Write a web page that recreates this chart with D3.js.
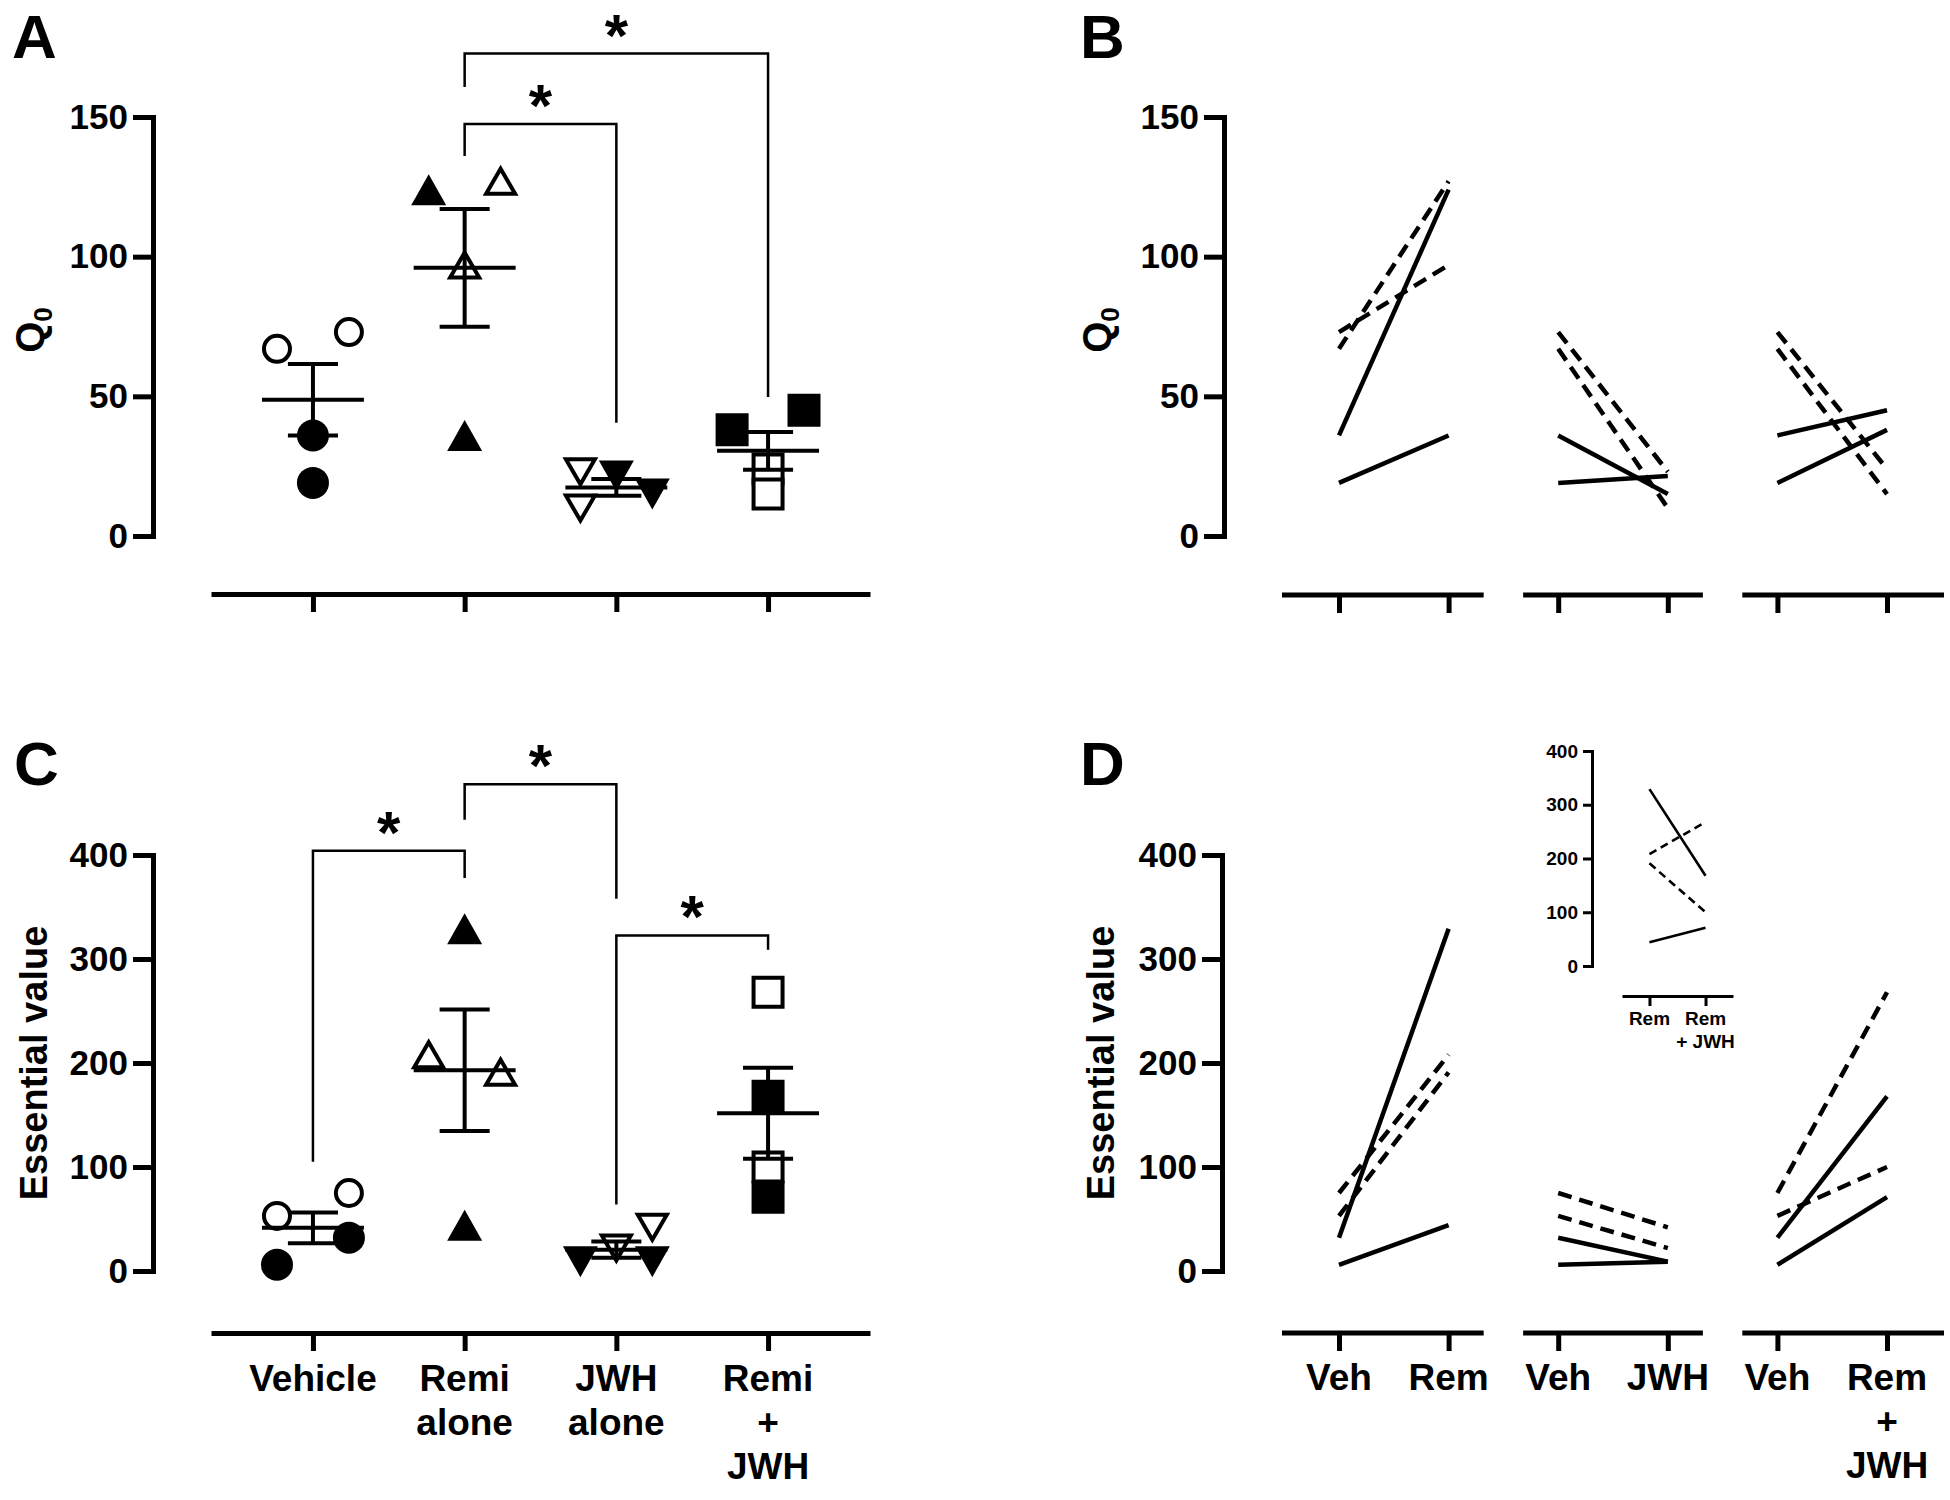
<!DOCTYPE html>
<html><head><meta charset="utf-8">
<script src="https://cdn.jsdelivr.net/npm/d3@7"></script>
<style>
body{margin:0;background:#fff;}
</style></head><body>
<svg id="fig" width="1950" height="1500"></svg>
<script>
// ---------------- DATA ----------------
const groups = ["Vehicle", "Remi alone", "JWH alone", "Remi + JWH"];
const groupLabels = [["Vehicle"], ["Remi", "alone"], ["JWH", "alone"], ["Remi", "+", "JWH"]];
const groupShapes = ["circle", "up", "down", "square"];
const subjects = ["S1", "S2", "S3", "S4"];
const subjectFilled = [true, true, false, false];

// Q0 (panel A/B), one value per subject
const q0Vehicle  = [36, 19, 73, 67];
const q0Remi     = [124, 36, 97, 127];
const q0JWH      = [15, 21.5, 23, 10];
const q0RemiJWH  = [45, 38, 24, 15];

// Essential value (panel C/D), one value per subject
const evVehicle  = [32, 6, 75, 53];
const evRemi     = [329, 44, 208, 191];
const evJWH      = [9, 9, 42, 22];
const evRemiJWH  = [168, 71, 268, 100];

const q0Ticks = [0, 50, 100, 150];
const evTicks = [0, 100, 200, 300, 400];

const pairKeys   = ["veh1", "rem", "veh2", "jwh", "veh3", "remjwh"];
const pairLabels = [["Veh"], ["Rem"], ["Veh"], ["JWH"], ["Veh"], ["Rem", "+", "JWH"]];
const insetKeys   = ["rem", "remjwh"];
const insetLabels = [["Rem"], ["Rem", "+ JWH"]];

// scatter column slot of each point (GraphPad-style spreading), per group per subject
const slotsQ0 = [[0, 0, 1, -1], [-1, 0, 0, 1], [1, 0, -1, -1], [1, -1, 0, 0]];
const slotsEV = [[1, -1, 1, -1], [0, 0, -1, 1], [-1, 1, 1, 0], [0, 0, 0, 0]];

// significance brackets (group indices, levels in data units)
const sigA = [
  {from: 1, to: 2, level: 147.5, legFrom: 136, legTo: 40.5, label: "*"},
  {from: 1, to: 3, level: 172.7, legFrom: 160.7, legTo: 49.8, label: "*"}
];
const sigC = [
  {from: 0, to: 1, level: 404, legFrom: 105, legTo: 378, label: "*"},
  {from: 1, to: 2, level: 468, legFrom: 434, legTo: 358, label: "*"},
  {from: 2, to: 3, level: 322.6, legFrom: 64, legTo: 309, label: "*"}
];

// ---------------- DRAWING ----------------
const FONT = '"Liberation Sans", Arial, Helvetica, sans-serif';
const svg = d3.select("#fig");
svg.append("rect").attr("width", 1950).attr("height", 1500).attr("fill", "#fff");

function txt(g, x, y, s, fs, anchor) {
  return g.append("text").attr("x", x).attr("y", y).text(s)
    .attr("font-family", FONT).attr("font-weight", "bold").attr("font-size", fs)
    .attr("text-anchor", anchor || "start").attr("fill", "#000");
}

function drawYAxis(y, ticks, xPos, fs, tickLen, sw) {
  const ax = d3.axisLeft(y).tickValues(ticks).tickSize(tickLen).tickSizeOuter(0)
    .tickPadding(5).tickFormat(d3.format("d"));
  const a = svg.append("g").attr("transform", `translate(${xPos},0)`).call(ax);
  a.attr("font-family", null).attr("font-size", null);
  a.select(".domain").attr("stroke", "#000").attr("stroke-width", sw).attr("stroke-linecap", "square");
  a.selectAll(".tick line").attr("stroke", "#000").attr("stroke-width", sw);
  a.selectAll(".tick text").attr("font-size", fs).attr("font-weight", "bold")
    .attr("font-family", FONT).attr("fill", "#000");
}

function drawXAxis(x, yPos, tickLen, sw, labels, fs, firstBase, lineH, segments) {
  const ax = d3.axisBottom(x).tickSize(tickLen).tickSizeOuter(0).tickFormat("");
  const a = svg.append("g").attr("transform", `translate(0,${yPos})`).call(ax);
  a.selectAll(".tick line").attr("stroke", "#000").attr("stroke-width", sw);
  const dom = x.domain();
  if (segments) {
    a.select(".domain").remove();
    const gap = 0.36 * x.step();
    const r = x.range();
    let start = r[0];
    const segs = [];
    for (let i = 1; i < dom.length - 1; i += 2) {
      const mid = (x(dom[i]) + x(dom[i + 1])) / 2;
      segs.push([start, mid - gap / 2]);
      start = mid + gap / 2;
    }
    segs.push([start, r[1]]);
    segs.forEach(s => a.append("line").attr("x1", s[0]).attr("x2", s[1]).attr("y1", 0).attr("y2", 0)
      .attr("stroke", "#000").attr("stroke-width", sw));
  } else {
    a.select(".domain").attr("stroke", "#000").attr("stroke-width", sw);
  }
  if (labels) {
    dom.forEach((d, i) => {
      labels[i].forEach((ln, j) => txt(svg, x(d), firstBase + j * lineH, ln, fs, "middle"));
    });
  }
}

function yLabel(x, y, parts, fs) {
  const t = svg.append("text").attr("transform", `translate(${x},${y}) rotate(-90)`)
    .attr("font-family", FONT).attr("font-weight", "bold").attr("font-size", fs)
    .attr("text-anchor", "middle").attr("fill", "#000");
  t.append("tspan").text(parts[0]);
  if (parts[1]) t.append("tspan").text(parts[1]).attr("font-size", fs * 0.65).attr("dy", fs * 0.2);
}

function markerPath(shape, filled) {
  const p = d3.path();
  if (shape === "circle") {
    const r = filled ? 16 : 13;
    p.moveTo(r, 0); p.arc(0, 0, r, 0, 2 * Math.PI);
  } else if (shape === "square") {
    const s = filled ? 33 : 29;
    p.rect(-s / 2, -s / 2, s, s);
  } else {
    const w = filled ? 35 : 29, h = filled ? 31 : 25, dir = shape === "up" ? 1 : -1;
    p.moveTo(0, -dir * h / 2); p.lineTo(w / 2, dir * h / 2); p.lineTo(-w / 2, dir * h / 2); p.closePath();
  }
  return p.toString();
}

function drawScatter(x, y, series, slots) {
  const step = x.step();
  series.forEach((vals, gi) => {
    const cx = x(groups[gi]);
    vals.forEach((v, si) => {
      const filled = subjectFilled[si];
      svg.append("path").attr("d", markerPath(groupShapes[gi], filled))
        .attr("transform", `translate(${cx + slots[gi][si] * 0.237 * step},${y(v)})`)
        .attr("fill", filled ? "#000" : "#fff").attr("stroke", filled ? "none" : "#000")
        .attr("stroke-width", 4).attr("stroke-linejoin", "miter");
    });
    // mean +/- SEM
    const m = d3.mean(vals), sem = d3.deviation(vals) / Math.sqrt(vals.length);
    const g = svg.append("g").attr("stroke", "#000").attr("stroke-width", 4);
    const hw = 0.336 * step, cw = 0.165 * step;
    g.append("line").attr("x1", cx - hw).attr("x2", cx + hw).attr("y1", y(m)).attr("y2", y(m));
    g.append("line").attr("x1", cx).attr("x2", cx).attr("y1", y(m - sem)).attr("y2", y(m + sem));
    [m - sem, m + sem].forEach(v => g.append("line").attr("x1", cx - cw).attr("x2", cx + cw).attr("y1", y(v)).attr("y2", y(v)));
  });
}

function drawBrackets(x, y, sigs) {
  sigs.forEach(s => {
    const x1 = x(groups[s.from]), x2 = x(groups[s.to]);
    svg.append("path")
      .attr("d", `M${x1},${y(s.legFrom)}V${y(s.level)}H${x2}V${y(s.legTo)}`)
      .attr("fill", "none").attr("stroke", "#000").attr("stroke-width", 2.5);
    txt(svg, (x1 + x2) / 2, y(s.level) + 2, s.label, 60, "middle");
  });
}

function drawPairs(x, y, vehicle, treatments, sw, dash) {
  treatments.forEach((tv, k) => {
    const xa = x(pairKeys[2 * k]), xb = x(pairKeys[2 * k + 1]);
    tv.forEach((v, si) => {
      svg.append("line").attr("x1", xa).attr("x2", xb)
        .attr("y1", y(vehicle[si])).attr("y2", y(v))
        .attr("stroke", "#000").attr("stroke-width", sw)
        .attr("stroke-dasharray", subjectFilled[si] ? null : dash);
    });
  });
}

// ---------- scales ----------
const xCat = d3.scalePoint().domain(groups).range([211, 870]).padding(0.672);
const xPair = d3.scalePoint().domain(pairKeys).range([1282, 1944]).padding(0.52);
const yQ0A = d3.scaleLinear().domain([0, 150]).range([536, 117]);
const yEV = d3.scaleLinear().domain([0, 400]).range([1271, 855]);

// ---------- Panel A ----------
txt(svg, 12, 58, "A", 62);
drawYAxis(yQ0A, q0Ticks, 153, 35, 20, 5);
drawXAxis(xCat, 594, 18, 5, null);
yLabel(44, 330, ["Q", "0"], 40);
drawScatter(xCat, yQ0A, [q0Vehicle, q0Remi, q0JWH, q0RemiJWH], slotsQ0);
drawBrackets(xCat, yQ0A, sigA);

// ---------- Panel B ----------
txt(svg, 1080, 58, "B", 62);
drawYAxis(yQ0A, q0Ticks, 1224, 35, 20, 5);
drawXAxis(xPair, 595, 18, 5, null, 0, 0, 0, true);
yLabel(1111, 330, ["Q", "0"], 40);
drawPairs(xPair, yQ0A, q0Vehicle, [q0Remi, q0JWH, q0RemiJWH], 4.5, "14,8");

// ---------- Panel C ----------
txt(svg, 14, 785, "C", 62);
drawYAxis(yEV, evTicks, 153, 35, 20, 5);
drawXAxis(xCat, 1333, 18, 5, groupLabels, 37, 1391, 44);
yLabel(47, 1063, ["Essential value"], 38);
drawScatter(xCat, yEV, [evVehicle, evRemi, evJWH, evRemiJWH], slotsEV);
drawBrackets(xCat, yEV, sigC);

// ---------- Panel D ----------
txt(svg, 1080, 785, "D", 62);
drawYAxis(yEV, evTicks, 1222, 35, 20, 5);
drawXAxis(xPair, 1333, 18, 5, pairLabels, 37, 1390, 44, true);
yLabel(1114, 1063, ["Essential value"], 38);
drawPairs(xPair, yEV, evVehicle, [evRemi, evJWH, evRemiJWH], 4.5, "14,8");

// ---------- Inset (Rem vs Rem + JWH) ----------
const xIn = d3.scalePoint().domain(insetKeys).range([1622, 1733]).padding(0.49);
const yIn = d3.scaleLinear().domain([0, 400]).range([966, 751]);
drawYAxis(yIn, evTicks, 1592, 19, 9, 3);
drawXAxis(xIn, 996, 10, 3, insetLabels, 19, 1025, 23);
evRemi.forEach((v, si) => {
  svg.append("line").attr("x1", xIn(insetKeys[0])).attr("x2", xIn(insetKeys[1]))
    .attr("y1", yIn(v)).attr("y2", yIn(evRemiJWH[si]))
    .attr("stroke", "#000").attr("stroke-width", 2.6)
    .attr("stroke-dasharray", subjectFilled[si] ? null : "8,5");
});
</script>
</body></html>
